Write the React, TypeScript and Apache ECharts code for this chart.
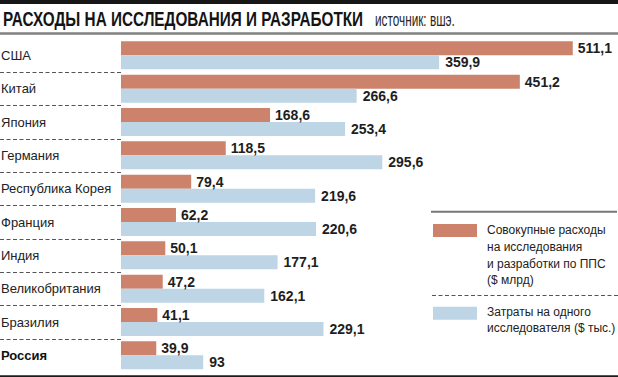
import React, { useEffect, useRef } from "react";
import * as echarts from "echarts";

const categories = [
  "США",
  "Китай",
  "Япония",
  "Германия",
  "Республика Корея",
  "Франция",
  "Индия",
  "Великобритания",
  "Бразилия",
  "Россия",
];
const highlighted = "Россия";
const totalSpend = [511.1, 451.2, 168.6, 118.5, 79.4, 62.2, 50.1, 47.2, 41.1, 39.9];
const perResearcher = [359.9, 266.6, 253.4, 295.6, 219.6, 220.6, 177.1, 162.1, 229.1, 93];

const seriesNames = [
  "Совокупные расходы\nна исследования\nи разработки по ППС\n($ млрд)",
  "Затраты на одного\nисследователя ($ тыс.)",
];
const titleText = "РАСХОДЫ НА ИССЛЕДОВАНИЯ И РАЗРАБОТКИ";
const sourceText = "источник: вшэ.";

const W = 618;
const H = 377;
const GRID_LEFT = 121;
const GRID_TOP = 38.7;
const GRID_W = 495;
const GRID_H = 333.3;
const X_MAX = 560;
const ORANGE = "#CD826B";
const BLUE = "#BDD5E5";
const FONT = "'Liberation Sans', Arial, Helvetica, sans-serif";

const fmt = (v: number) => String(v).replace(".", ",");

export default function App() {
  const ref = useRef<HTMLDivElement>(null);
  useEffect(() => {
    if (!ref.current) return;
    const chart = echarts.init(ref.current, undefined, { renderer: "svg" });
    const band = GRID_H / categories.length;
    const separators: any[] = [];
    for (let i = 1; i < categories.length; i++) {
      const y = Math.round(GRID_TOP + i * band) + 0.5;
      separators.push({
        type: "line",
        shape: { x1: 0, y1: y, x2: GRID_LEFT, y2: y },
        style: { stroke: "#555", lineWidth: 1, lineDash: [4, 2.5] },
        silent: true,
      });
    }
    const valueLabel = (distance: number) => ({
      show: true,
      position: "right",
      distance,
      formatter: (p: any) => fmt(p.value),
      fontSize: 14,
      fontWeight: "bold",
      fontFamily: FONT,
      color: "#1e1e1e",
    });
    const option: any = {
      animation: false,
      backgroundColor: "#fff",
      grid: {
        left: GRID_LEFT,
        top: GRID_TOP,
        width: GRID_W,
        height: GRID_H,
        containLabel: false,
        outerBoundsMode: "none",
      },
      xAxis: { type: "value", min: 0, max: X_MAX, show: false },
      yAxis: {
        type: "category",
        inverse: true,
        data: categories,
        axisLine: { show: false },
        axisTick: { show: false },
        axisLabel: {
          align: "left",
          margin: 120,
          fontSize: 13,
          fontFamily: FONT,
          color: "#222",
          formatter: (v: string) => (v === highlighted ? `{b|${v}}` : v),
          rich: {
            b: { fontSize: 13, fontFamily: FONT, fontWeight: "bold", color: "#111" },
          },
        },
      },
      series: [
        {
          name: seriesNames[0],
          type: "bar",
          data: totalSpend,
          barWidth: 14,
          barGap: "0%",
          itemStyle: { color: ORANGE },
          label: valueLabel(5),
        },
        {
          name: seriesNames[1],
          type: "bar",
          data: perResearcher,
          barWidth: 14,
          barGap: "0%",
          itemStyle: { color: BLUE },
          label: valueLabel(6),
        },
      ],
      graphic: [
        { type: "rect", shape: { x: 0, y: 0, width: W, height: 4 }, style: { fill: "#161616" }, silent: true },
        { type: "rect", shape: { x: 0, y: 32.3, width: W, height: 2.5 }, style: { fill: "#808080" }, silent: true },
        { type: "rect", shape: { x: 0, y: 375.3, width: W, height: 2.5 }, style: { fill: "#1c1c1c" }, silent: true },
        {
          type: "text",
          x: 3,
          y: 18.9,
          scaleX: 0.765,
          style: {
            text: titleText,
            fontSize: 20,
            fontWeight: "bold",
            fontFamily: FONT,
            fill: "#141414",
            textVerticalAlign: "middle",
          },
          silent: true,
        },
        {
          type: "text",
          x: 375,
          y: 19.5,
          scaleX: 0.62,
          style: {
            text: sourceText,
            fontSize: 19,
            fontFamily: FONT,
            fill: "#262626",
            textVerticalAlign: "middle",
          },
          silent: true,
        },
        ...separators,
        { type: "rect", shape: { x: 431, y: 210.7, width: 186, height: 2 }, style: { fill: "#777" }, silent: true },
        {
          type: "line",
          shape: { x1: 432, y1: 295.5, x2: 618, y2: 295.5 },
          style: { stroke: "#555", lineWidth: 1, lineDash: [4, 2.5] },
          silent: true,
        },
        { type: "rect", shape: { x: 433, y: 224, width: 44, height: 13 }, style: { fill: ORANGE }, silent: true },
        { type: "rect", shape: { x: 433, y: 306.7, width: 44, height: 13 }, style: { fill: BLUE }, silent: true },
        {
          type: "text",
          x: 487,
          y: 222,
          style: {
            text: seriesNames[0],
            fontSize: 12,
            lineHeight: 16.67,
            fontFamily: FONT,
            fill: "#222",
            textVerticalAlign: "top",
          },
          silent: true,
        },
        {
          type: "text",
          x: 487,
          y: 303.3,
          style: {
            text: seriesNames[1],
            fontSize: 12,
            lineHeight: 16.67,
            fontFamily: FONT,
            fill: "#222",
            textVerticalAlign: "top",
          },
          silent: true,
        },
      ],
    };
    chart.setOption(option);
    return () => chart.dispose();
  }, []);
  return (
    <div
      ref={ref}
      style={{ position: "absolute", left: 0, top: 0, width: W, height: H, background: "#fff" }}
    />
  );
}
